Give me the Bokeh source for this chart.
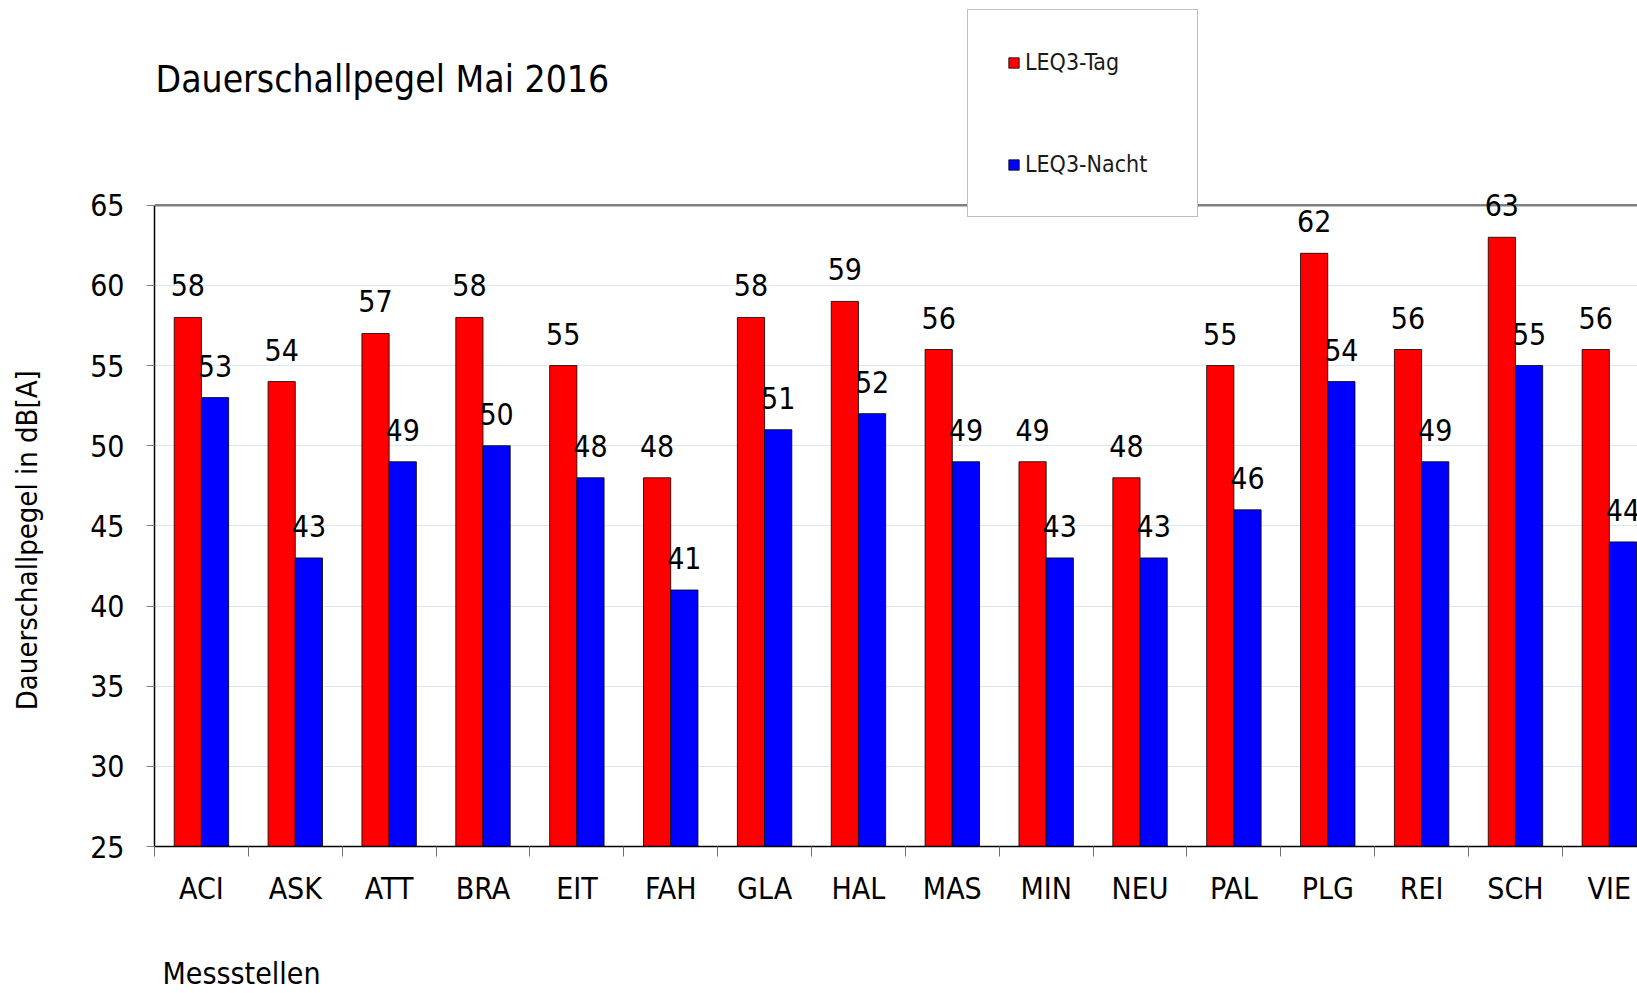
from bokeh.plotting import figure
from bokeh.models import (ColumnDataSource, Range1d, FixedTicker, LabelSet, Label,
                          Span, Legend, LegendItem, LinearAxis)
from bokeh.core.properties import value
from bokeh.transform import dodge
from bokeh.embed import file_html
from bokeh.resources import INLINE

stations = ["ACI", "ASK", "ATT", "BRA", "EIT", "FAH", "GLA", "HAL", "MAS", "MIN",
            "NEU", "PAL", "PLG", "REI", "SCH", "VIE"]
leq_tag = [58, 54, 57, 58, 55, 48, 58, 59, 56, 49, 48, 55, 62, 56, 63, 56]
leq_nacht = [53, 43, 49, 50, 48, 41, 51, 52, 49, 43, 43, 46, 54, 49, 55, 44]
y_ticks = [25, 30, 35, 40, 45, 50, 55, 60, 65]

FONT = "DejaVu Sans Condensed"

pos = [i + 0.5 for i in range(len(stations))]
src = ColumnDataSource(dict(x=pos, tag=leq_tag, nacht=leq_nacht,
                            tag_s=[str(v) for v in leq_tag],
                            nacht_s=[str(v) for v in leq_nacht]))

W, H = 1637, 993
p = figure(width=W, height=H, output_backend="svg", toolbar_location=None,
           x_range=Range1d(0, 15.80), y_range=Range1d(25, 77.77),
           min_border_left=154, min_border_right=0, min_border_top=0,
           min_border_bottom=146)
p.outline_line_color = None
p.background_fill_color = "white"
p.border_fill_color = "white"

# grid
p.xgrid.visible = False
p.ygrid.grid_line_color = "#dde6f2"
p.ygrid.grid_line_width = 1
p.ygrid.ticker = FixedTicker(ticks=y_ticks[1:-1])

top_line = Span(location=65, dimension="width", line_color="#808080", line_width=2.5)
p.add_layout(top_line)

bw = 0.29
r_tag = p.vbar(x=dodge("x", -0.145, range=p.x_range), top="tag", bottom=25, width=bw,
               source=src, fill_color="#ff0000", line_color="black", line_width=0.8)
r_nacht = p.vbar(x=dodge("x", 0.145, range=p.x_range), top="nacht", bottom=25, width=bw,
                 source=src, fill_color="#0000ff", line_color="black", line_width=0.8)

lbl_tag = LabelSet(x=dodge("x", -0.145, range=p.x_range), y="tag", text="tag_s", source=src,
                   text_align="center", text_baseline="alphabetic", y_offset=21,
                   text_font=value(FONT), text_font_size=value("30px"),
                   text_color=value("black"))
lbl_nacht = LabelSet(x=dodge("x", 0.145, range=p.x_range), y="nacht", text="nacht_s", source=src,
                     text_align="center", text_baseline="alphabetic", y_offset=21,
                     text_font=value(FONT), text_font_size=value("30px"),
                     text_color=value("black"))
p.add_layout(lbl_tag)
p.add_layout(lbl_nacht)

# y axis
ya = p.yaxis[0]
ya.ticker = FixedTicker(ticks=y_ticks)
ya.bounds = (25, 65)
ya.axis_line_color = "black"
ya.axis_line_width = 1.5
ya.major_tick_line_color = "#808080"
ya.major_tick_out = 8
ya.major_tick_in = 0
ya.minor_tick_line_color = None
ya.major_label_text_font = FONT
ya.major_label_text_font_size = "30px"
ya.major_label_text_color = "black"
ya.major_label_standoff = 22

# y axis title (rotated label beside the axis, centred on the value scale)
y_title_pos = 44.1
ya2 = LinearAxis(ticker=FixedTicker(ticks=[y_title_pos]),
                 major_label_overrides={y_title_pos: "Dauerschallpegel in dB[A]"},
                 major_label_orientation="vertical",
                 axis_line_color=None, major_tick_line_color=None,
                 minor_tick_line_color=None, major_tick_out=0, major_tick_in=0,
                 major_label_standoff=43, major_label_text_font=FONT,
                 major_label_text_font_size="29px", major_label_text_color="black")
p.add_layout(ya2, "left")

# x axis
xa = p.xaxis[0]
xa.ticker = FixedTicker(ticks=pos, minor_ticks=list(range(len(stations) + 1)))
xa.major_label_overrides = {float(x): s for x, s in zip(pos, stations)}
xa.axis_line_color = "black"
xa.axis_line_width = 1.5
xa.major_tick_line_color = None
xa.major_tick_out = 10
xa.major_tick_in = 0
xa.minor_tick_line_color = "#707070"
xa.minor_tick_out = 10
xa.minor_tick_in = 0
xa.major_label_text_font = FONT
xa.major_label_text_font_size = "30px"
xa.major_label_text_color = "black"
xa.major_label_standoff = 14

# x axis title
x_title_pos = 0.927
xa2 = LinearAxis(ticker=FixedTicker(ticks=[x_title_pos]),
                 major_label_overrides={x_title_pos: "Messstellen"},
                 axis_line_color=None, major_tick_line_color=None,
                 minor_tick_line_color=None, major_tick_out=0, major_tick_in=0,
                 major_label_standoff=47, major_label_text_font=FONT,
                 major_label_text_font_size="30px", major_label_text_color="black")
p.add_layout(xa2, "below")

p.add_layout(Label(x=1, y=766.6, x_units="screen", y_units="screen",
                   text="Dauerschallpegel Mai 2016", text_font=FONT,
                   text_font_size="37px", text_baseline="middle", text_color="black"))

legend = Legend(items=[LegendItem(label="LEQ3-Tag", renderers=[r_tag]),
                       LegendItem(label="LEQ3-Nacht", renderers=[r_nacht])],
                location=(813, 629), orientation="vertical",
                label_text_font=FONT, label_text_font_size="23px",
                label_text_color="#1a1a1a",
                glyph_width=13, glyph_height=13, label_height=22, label_width=133,
                label_standoff=5, spacing=76, padding=39, margin=0,
                border_line_color="#808080", border_line_width=1,
                background_fill_color="white", background_fill_alpha=1)
p.add_layout(legend, "center")

open("out.html", "w").write(file_html(p, INLINE))
